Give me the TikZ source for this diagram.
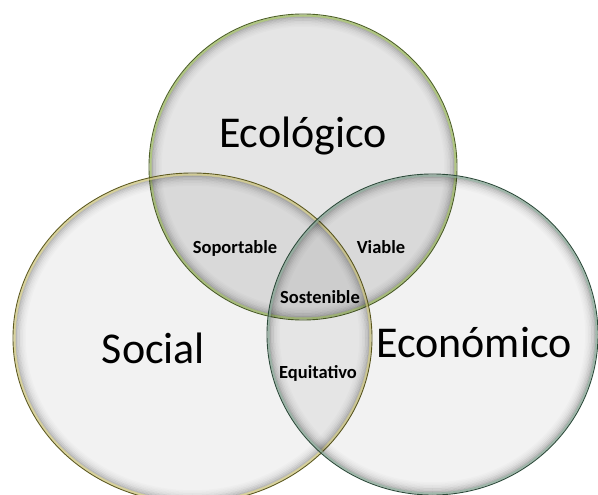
\documentclass[tikz,border=0pt]{standalone}
\usepackage{fontspec}
\setmainfont{Carlito}
\usepackage{tikz}

\definecolor{ecoline}{HTML}{4F6228}
\definecolor{ecoglow}{HTML}{9BBB59}
\definecolor{socline}{HTML}{5E5A1E}
\definecolor{socglow}{HTML}{CFC67A}
\definecolor{econline}{HTML}{2C4A3A}
\definecolor{econglow}{HTML}{7FA08E}

\begin{document}
\begin{tikzpicture}[x = 1pt, y = -1pt,
                    big/.style = {font = \fontsize{44}{44}\selectfont, anchor = base, inner sep = 0pt},
                    small/.style = {font = \fontsize{18.5}{18.5}\selectfont\bfseries, anchor = base, inner sep = 0pt}]
      \useasboundingbox (0, 0) rectangle (598, 495);
      \clip (0, 0) rectangle (598, 495);
      \fill [white] (0, 0) rectangle (598, 495);

      % the three sets: centre, radii, fill, line and glow colour
      \foreach \cx/\cy/\rx/\ry/\op/\lc/\gc in {303/167/154/153/0.10/ecoline/ecoglow,
                                                 192.5/338/179.5/165/0.05/socline/socglow,
                                                 432.5/334.5/165.5/160.5/0.05/econline/econglow}
      {
        \fill [black, fill opacity = \op] (\cx, \cy) ellipse [x radius = \rx, y radius = \ry];
        \foreach \d/\o in {3/.22, 4.5/.16, 6/.12, 7.5/.08, 9/.05, 10.5/.03, 12/.015}
          \draw [black, opacity = \o, line width = 1.5pt] (\cx, \cy) ellipse [x radius = \rx - \d, y radius = \ry - \d];
        \draw [\gc, opacity = 0.7, line width = 2pt] (\cx, \cy) ellipse [x radius = \rx - 1.5, y radius = \ry - 1.5];
        \draw [\lc, line width = 0.9pt] (\cx, \cy) ellipse [x radius = \rx, y radius = \ry];
      }

      \node [big] (ecol) at (303, 148){Ecológico};
      \node [big] (soc) at (153.5, 363){Social};
      \node [big] (econ) at (474, 357){Económico};

      \node [small] (sop) at (235, 253){Soportable};
      \node [small] (via) at (381, 253){Viable};
      \node [small] (sos) at (320, 303){Sostenible};
      \node [small] (equ) at (318, 378){Equitativo};

      \end{tikzpicture}
\end{document}
